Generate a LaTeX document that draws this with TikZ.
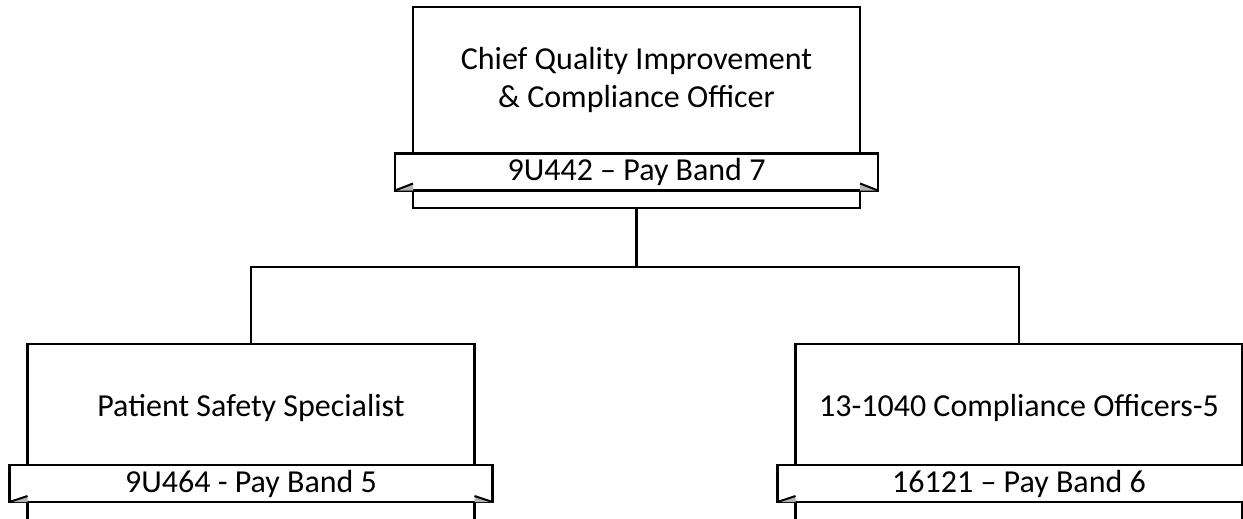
\documentclass[tikz,border=0pt]{standalone}
\usepackage{fontspec}
\setmainfont{Carlito}
\begin{document}
\begin{tikzpicture}[x=1pt,y=-1pt,
  line width=2.5pt,
  roleBox/.style={draw=black, fill=white, minimum width=447pt, inner sep=0pt, outer sep=0pt},
  bannerBox/.style={draw=black, fill=white, minimum width=483pt, minimum height=37pt, inner sep=0pt, outer sep=0pt, font=\fontsize{32}{38}\selectfont},
  titleText/.style={align=center, inner sep=0pt, font=\fontsize{32}{38}\selectfont},
  foldFill/.style={fill=black!30, draw=none},
  foldLine/.style={draw=black, line width=2pt},
  connector/.style={draw=black, line width=2.5pt}
]
\useasboundingbox (0,0) rectangle (1243,519);
\clip (0,0) rectangle (1243,519);

% top
\node[roleBox, minimum height=201pt] (top) at (636.5,107.5) {};
\node[bannerBox] (topb) at (636.5,172) {9U442 – Pay Band 7};
\node[titleText] (topt) at (636.5,80) {Chief Quality Improvement\\\& Compliance Officer};
\fill[foldFill] (topb.south west) -- (top.west |- topb.south) -- ([yshift=7pt]top.west |- topb.south) -- cycle;
\fill[foldFill] (topb.south east) -- (top.east |- topb.south) -- ([yshift=7pt]top.east |- topb.south) -- cycle;
\draw[foldLine] (topb.south west) -- ([yshift=7pt]top.west |- topb.south);
\draw[foldLine] (topb.south east) -- ([yshift=7pt]top.east |- topb.south);

% left
\node[roleBox, minimum height=176pt] (left) at (251,432) {};
\node[bannerBox] (leftb) at (251,483.5) {9U464 - Pay Band 5};
\node[titleText] (leftt) at (251,408) {Patient Safety Specialist};
\fill[foldFill] (leftb.south west) -- (left.west |- leftb.south) -- ([yshift=6pt]left.west |- leftb.south) -- cycle;
\fill[foldFill] (leftb.south east) -- (left.east |- leftb.south) -- ([yshift=6pt]left.east |- leftb.south) -- cycle;
\draw[foldLine] (leftb.south west) -- ([yshift=6pt]left.west |- leftb.south);
\draw[foldLine] (leftb.south east) -- ([yshift=6pt]left.east |- leftb.south);

% right
\node[roleBox, minimum height=176pt] (right) at (1019,432) {};
\node[bannerBox] (rightb) at (1019,483.5) {16121 – Pay Band 6};
\node[titleText] (rightt) at (1019,408) {13-1040 Compliance Officers-5};
\fill[foldFill] (rightb.south west) -- (right.west |- rightb.south) -- ([yshift=6pt]right.west |- rightb.south) -- cycle;
\draw[foldLine] (rightb.south west) -- ([yshift=6pt]right.west |- rightb.south);

% connectors
\coordinate (bus) at (636.5,267);
\draw[connector] (top.south) -- (bus);
\draw[connector] (left.north) |- (bus) -| (right.north);
\end{tikzpicture}
\end{document}
